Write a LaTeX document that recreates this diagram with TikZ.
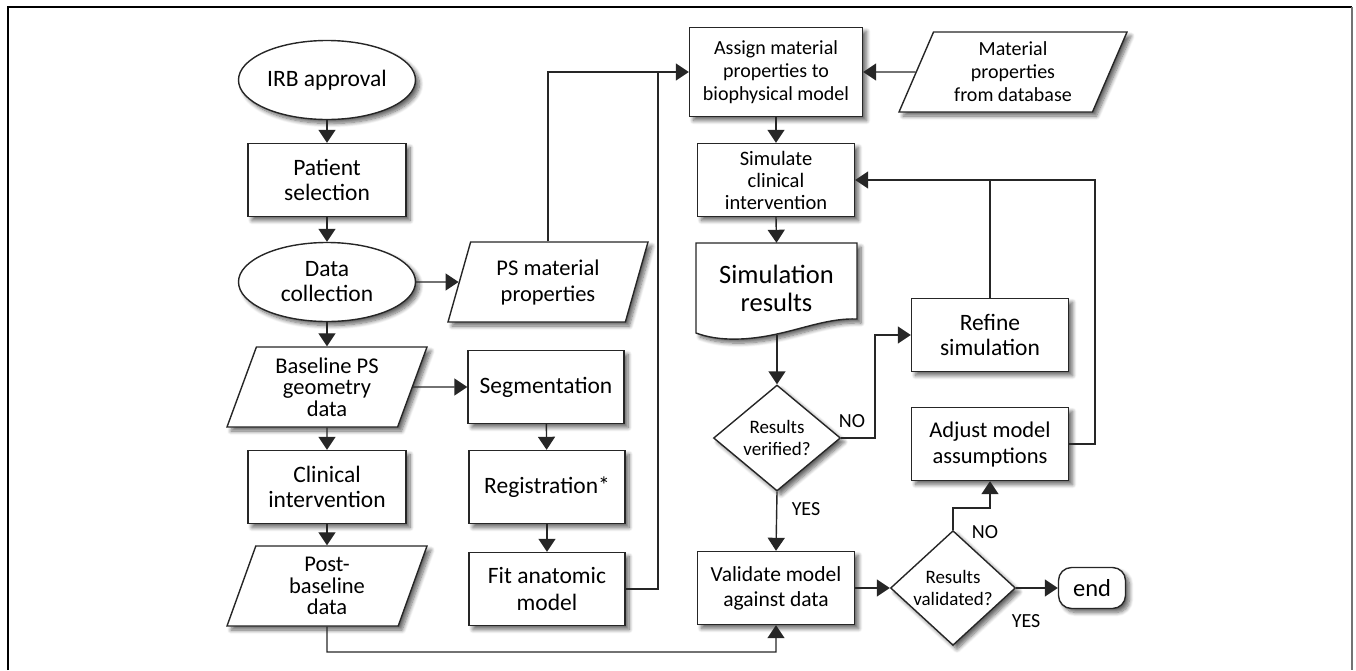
\documentclass[tikz,border=0pt]{standalone}
\usepackage{fontspec}
\setmainfont{Carlito}
\usetikzlibrary{shapes.geometric,shapes.misc,arrows.meta,shadows.blur}
\begin{document}
\begin{tikzpicture}[x=1pt,y=-1pt,
  shad/.style={blur shadow={shadow xshift=4pt,shadow yshift=-4pt,shadow blur steps=8,shadow opacity=60,shadow blur radius=4pt}},
  base/.style={draw=black!85,line width=1.4pt,fill=white,align=center,inner sep=2pt,shad},
  big/.style={font=\fontsize{23.5}{25}\selectfont},
  mid/.style={font=\fontsize{20}{23}\selectfont},
  box/.style={base,rectangle,minimum width=158pt,minimum height=73pt},
  oval/.style={base,ellipse,minimum width=177pt,minimum height=79pt,inner sep=0pt},
  io/.style={base,trapezium,trapezium left angle=63.43,trapezium right angle=116.57,trapezium stretches body,minimum height=80pt,minimum width=200pt,inner sep=0pt},
  dec/.style={base,diamond,inner sep=0pt},
  conn/.style={draw=black!85,line width=1.4pt},
  arr/.style={conn,-{Triangle[length=13pt,width=17pt]}},
  lbl/.style={font=\fontsize{20}{22}\selectfont}
]
\useasboundingbox (0,0) rectangle (1356,670);
% frame
\draw[line width=2pt] (8,670) -- (8,7) -- (1352,7);
\draw[line width=2pt,black!55] (1352,7) -- (1352,670);

% left column
\node[oval,big] (irb) at (327,80) {IRB approval};
\node[box,big] (pat) at (327,180) {Patient\\selection};
\node[oval,big] (dc) at (327,282) {Data\\collection};
\node[io,font=\fontsize{22.5}{21.5}\selectfont] (bps) at (327,387) {Baseline PS\\geometry\\data};
\node[box,big] (ci) at (327,487) {Clinical\\intervention};
\node[io,font=\fontsize{22.5}{21.5}\selectfont] (pbd) at (327,586) {Post-\\baseline\\data};

% second column
\node[io,font=\fontsize{22.5}{26}\selectfont] (psm) at (548,282) {PS material\\properties};
\node[box,big,minimum width=156pt] (seg) at (546,387) {Segmentation};
\node[box,big,minimum width=156pt] (reg) at (547,487) {Registration*};
\node[box,big,minimum width=156pt,font=\fontsize{23.5}{27}\selectfont] (fit) at (547,589) {Fit anatomic\\model};

% third column
\node[box,mid,minimum width=173pt,minimum height=89pt] (asg) at (776,72) {Assign material\\properties to\\biophysical model};
\node[io,mid,trapezium left angle=60.1,trapezium right angle=119.9,minimum width=228pt] (mdb) at (1013,72) {Material\\properties\\from database};
\node[box,mid,minimum width=157pt,font=\fontsize{20.5}{22}\selectfont] (sim) at (776,180) {Simulate\\clinical\\intervention};
\path[base] (696,243) -- (857,243) -- (857,319) .. controls (830,318) and (805,328) .. (777,334) .. controls (750,340) and (720,342) .. (696,333) -- cycle;
\node[rectangle,align=center,minimum width=161pt,minimum height=90pt,inner sep=0pt,font=\fontsize{26.5}{28}\selectfont] (res) at (776.5,288) {Simulation\\results};
\coordinate (resb) at (777,335);
\node[dec,font=\fontsize{19}{22}\selectfont,minimum width=127pt,minimum height=106pt] (rv) at (777,438) {Results\\verified?};
\node[box,minimum width=157pt,font=\fontsize{21.5}{25}\selectfont] (val) at (776,588) {Validate model\\against data};

% right column
\node[box,big,minimum width=157pt] (ref) at (990,335) {Refine\\simulation};
\node[box,minimum width=157pt,font=\fontsize{22.5}{26}\selectfont] (adj) at (990,444) {Adjust model\\assumptions};
\node[dec,font=\fontsize{19}{22}\selectfont,minimum width=125pt,minimum height=106pt] (rva) at (953,588) {Results\\validated?};
\node[base,rectangle,rounded corners=13pt,minimum width=67pt,minimum height=41pt,font=\fontsize{24.5}{26}\selectfont] (end) at (1092,588) {end};

% labels
\node[lbl] (no1) at (852,421) {NO};
\node[lbl] (yes1) at (806,509) {YES};
\node[lbl] (no2) at (985,532) {NO};
\node[lbl] (yes2) at (1026,621) {YES};

% connectors
\coordinate (b1) at (327,652);
\coordinate (j1) at (658,72);
\coordinate (b2) at (875,438);
\coordinate (b3) at (1095,180);
\coordinate (b4) at (953,508);
\draw[arr] (irb) -- (pat);
\draw[arr] (pat) -- (dc);
\draw[arr] (dc) -- (bps);
\draw[arr] (bps) -- (ci);
\draw[arr] (ci) -- (pbd);
\draw[arr] (pbd.south) -- (b1) -| (val.south);
\draw[arr] (dc.east) -- (psm.west);
\draw[arr] (psm.north) |- (asg.west);
\draw[conn] (fit.east) -| (j1);
\draw[arr] (mdb.west) -- (asg.east);
\draw[arr] (bps.east) -- (seg.west);
\draw[arr] (seg) -- (reg);
\draw[arr] (reg) -- (fit);
\draw[arr] (asg) -- (sim);
\draw[arr] (sim.south) -- (res.north);
\draw[arr] (resb) -- (rv.north);
\draw[arr] (rv.east) -- (b2) |- (ref.west);
\draw[arr] (rv.south) -- (val.north);
\draw[arr] (adj.east) -| (b3) -- (sim.east);
\draw[conn] (ref.north) -- (ref.north |- b3);
\draw[arr] (val.east) -- (rva.west);
\draw[arr] (rva.north) -- (b4) -| (adj.south);
\draw[arr] (rva.east) -- (end.west);
\end{tikzpicture}
\end{document}
